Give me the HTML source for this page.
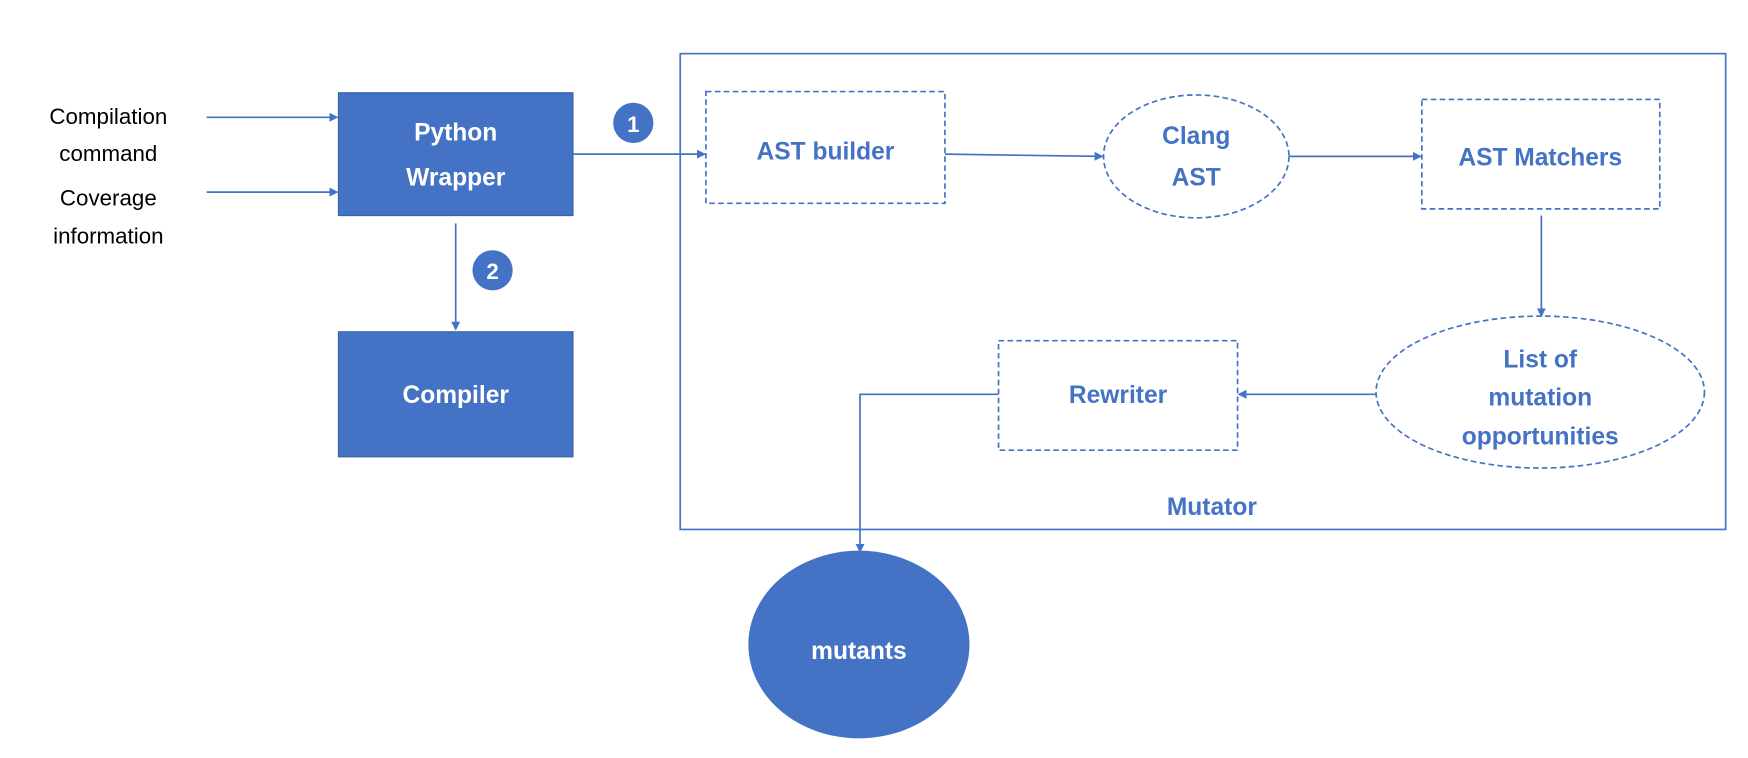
<!DOCTYPE html>
<html><head><meta charset="utf-8"><style>
html,body{margin:0;padding:0;background:#fff;}
svg{display:block;}
</style></head><body>
<svg width="1748" height="758" viewBox="0 0 1565 678.6" preserveAspectRatio="none" xmlns="http://www.w3.org/2000/svg" font-family="Liberation Sans, sans-serif">
<defs>
<marker id="ar" markerWidth="8" markerHeight="8" refX="7" refY="4" orient="auto" markerUnits="userSpaceOnUse">
<path d="M0,0 L8,4 L0,8 z" fill="#4472C4"/>
</marker>
</defs>
<g fill="#000" font-size="20" text-anchor="middle">
<text x="97" y="111">Compilation</text>
<text x="97" y="144">command</text>
<text x="97" y="184">Coverage</text>
<text x="97" y="218">information</text>
</g>
<g stroke="#4472C4" stroke-width="1.5" fill="none">
<line x1="185" y1="105" x2="302" y2="105" marker-end="url(#ar)"/>
<line x1="185" y1="172" x2="302" y2="172" marker-end="url(#ar)"/>
<line x1="513" y1="138" x2="631" y2="138" marker-end="url(#ar)"/>
<line x1="408" y1="200" x2="408" y2="295" marker-end="url(#ar)"/>
<line x1="846" y1="138" x2="987" y2="140" marker-end="url(#ar)"/>
<line x1="1154" y1="140" x2="1272" y2="140" marker-end="url(#ar)"/>
<line x1="1380" y1="193" x2="1380" y2="283" marker-end="url(#ar)"/>
<line x1="1232" y1="353" x2="1109" y2="353" marker-end="url(#ar)"/>
<polyline points="894,353 770,353 770,494" marker-end="url(#ar)"/>
<rect x="609" y="48" width="936" height="426"/>
</g>
<rect x="303" y="83" width="210" height="110" fill="#4472C4" stroke="#3A62A8"/>
<rect x="303" y="297" width="210" height="112" fill="#4472C4" stroke="#3A62A8"/>
<ellipse cx="769" cy="577" rx="99" ry="84" fill="#4472C4"/>
<circle cx="567" cy="110" r="18" fill="#4472C4"/>
<circle cx="441" cy="242" r="18" fill="#4472C4"/>
<g stroke="#4472C4" stroke-width="1.5" fill="none" stroke-dasharray="5,3">
<rect x="632" y="82" width="214" height="100"/>
<rect x="1273" y="89" width="213" height="98"/>
<rect x="894" y="305" width="214" height="98"/>
<ellipse cx="1071" cy="140" rx="83" ry="55"/>
<ellipse cx="1379" cy="351" rx="147" ry="68"/>
</g>
<g fill="#fff" font-size="22" font-weight="bold" text-anchor="middle">
<text x="408" y="126">Python</text>
<text x="408" y="166">Wrapper</text>
<text x="408" y="361">Compiler</text>
<text x="769" y="590">mutants</text>
<text x="567" y="118" font-size="20">1</text>
<text x="441" y="250" font-size="20">2</text>
</g>
<g fill="#4472C4" font-size="22" font-weight="bold" text-anchor="middle">
<text x="739" y="143">AST builder</text>
<text x="1071" y="129">Clang</text>
<text x="1071" y="166">AST</text>
<text x="1379" y="148">AST Matchers</text>
<text x="1001" y="361">Rewriter</text>
<text x="1379" y="329">List of</text>
<text x="1379" y="363">mutation</text>
<text x="1379" y="398">opportunities</text>
<text x="1085" y="461">Mutator</text>
</g>
</svg>
</body></html>
